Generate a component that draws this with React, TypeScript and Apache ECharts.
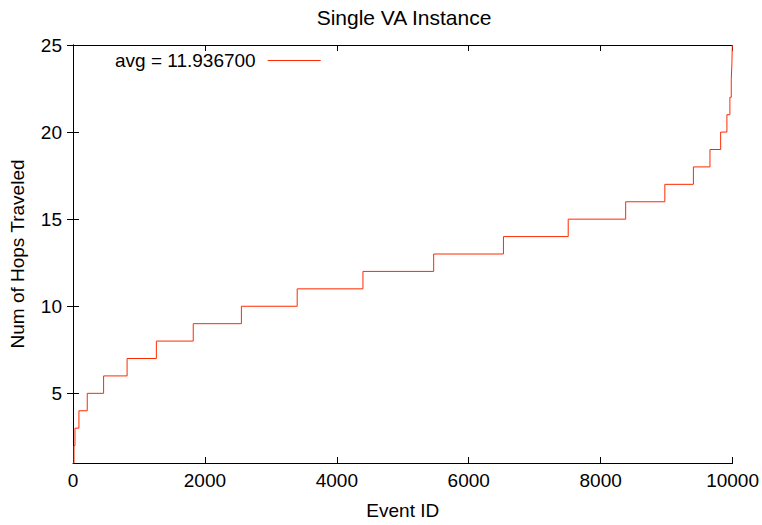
import React, { useEffect, useRef } from 'react';
import * as echarts from 'echarts';

// Event ID at which the number of hops steps up to the matching value in hopCounts
const eventIds = [0, 15, 30, 90, 216, 464, 820, 1264, 1823, 2553, 3399, 4396, 5468, 6526, 7508, 8379, 8973, 9406, 9657, 9819, 9914, 9959, 9980, 9990, 9996, 10000];
const hopCounts = [1, 2, 3, 4, 5, 6, 7, 8, 9, 10, 11, 12, 13, 14, 15, 16, 17, 18, 19, 20, 21, 22, 23, 24, 25, 25];
const yTickValues = [5, 10, 15, 20, 25];
const chartTitle = 'Single VA Instance';
const legendLabel = 'avg = 11.936700';
const xAxisTitle = 'Event ID';
const yAxisTitle = 'Num of Hops Traveled';

export default function App() {
  const ref = useRef<HTMLDivElement>(null);
  useEffect(() => {
    const chart = echarts.init(ref.current!, null, { renderer: 'svg' });
    const font = '"Liberation Sans", Helvetica, Arial, sans-serif';
    const black = '#000';
    const data = eventIds.map((x, i) => [x, hopCounts[i]]);
    const axisLine = { show: true, lineStyle: { color: black, width: 1 } };
    const axisTick = { show: true, inside: true, length: 6, lineStyle: { color: black, width: 1 } };
    chart.setOption({
      animation: false,
      backgroundColor: '#fff',
      textStyle: { fontFamily: font },
      title: {
        text: chartTitle,
        left: 399,
        textAlign: 'center',
        top: 2,
        textStyle: { fontFamily: font, fontSize: 21, fontWeight: 'normal', color: black },
      },
      legend: {
        left: 115,
        top: 51,
        padding: 0,
        align: 'right',
        itemWidth: 53,
        itemHeight: 1,
        icon: 'rect',
        textStyle: { fontFamily: font, fontSize: 19, color: black, padding: [0, 7, 0, 0] },
        data: [{ name: legendLabel }],
      },
      grid: { left: 73, right: 28, top: 45, bottom: 57, containLabel: false },
      xAxis: [
        {
          type: 'value',
          position: 'bottom',
          min: 0,
          max: 10000,
          interval: 2000,
          name: xAxisTitle,
          nameLocation: 'middle',
          nameGap: 38,
          nameTextStyle: { fontFamily: font, fontSize: 19, color: black },
          axisLine,
          axisTick,
          splitLine: { show: false },
          axisLabel: { fontFamily: font, fontSize: 19, color: black, margin: 8, formatter: (v: number) => String(v) },
        },
        {
          type: 'value',
          position: 'top',
          min: 0,
          max: 10000,
          interval: 2000,
          axisLine,
          axisTick,
          splitLine: { show: false },
          axisLabel: { show: false },
        },
      ],
      yAxis: [
        {
          type: 'value',
          position: 'left',
          min: 1,
          max: 25,
          name: yAxisTitle,
          nameLocation: 'middle',
          nameGap: 46,
          nameRotate: 90,
          nameTextStyle: { fontFamily: font, fontSize: 19, color: black },
          axisLine,
          axisTick: { ...axisTick, customValues: yTickValues },
          splitLine: { show: false },
          axisLabel: { fontFamily: font, fontSize: 19, color: black, margin: 11, customValues: yTickValues },
        },
        {
          type: 'value',
          position: 'right',
          min: 1,
          max: 25,
          axisLine,
          axisTick: { ...axisTick, customValues: yTickValues },
          splitLine: { show: false },
          axisLabel: { show: false, customValues: yTickValues },
        },
      ],
      series: [
        {
          name: legendLabel,
          type: 'line',
          step: 'end',
          data,
          showSymbol: false,
          symbol: 'none',
          lineStyle: { color: '#ff2a00', width: 1 },
          itemStyle: { color: '#ff2a00' },
        },
      ],
    });
    return () => chart.dispose();
  }, []);
  return <div ref={ref} style={{ position: 'fixed', left: 0, top: 0, width: 762, height: 525 }} />;
}
